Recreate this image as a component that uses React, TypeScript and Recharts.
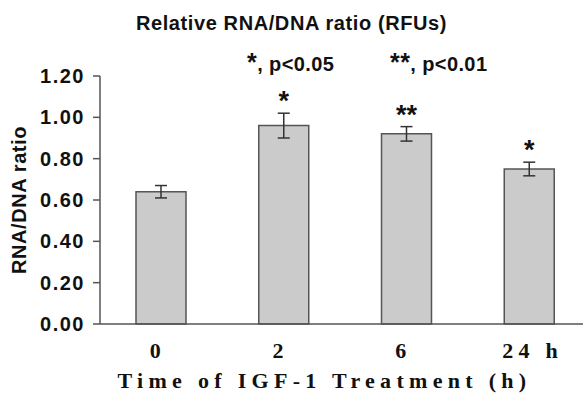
import React from "react";
import { ComposedChart, Bar, XAxis, YAxis, ErrorBar } from "recharts";

const times = ["0", "2", "6", "24 h"];
const ratios = [0.64, 0.96, 0.92, 0.75];
const errors = [0.03, 0.06, 0.035, 0.033];
const stars = ["", "*", "**", "*"];
const yTicks = [0, 0.2, 0.4, 0.6, 0.8, 1.0, 1.2];
const boundaryTicks = [1, 2, 3];

const data = times.map((t, i) => ({
  time: t,
  ratio: ratios[i],
  err: errors[i],
  star: stars[i],
}));

const sans = "'Liberation Sans', Arial, sans-serif";
const serif = "'Liberation Serif', 'Times New Roman', serif";

const renderStar = (props: any) => {
  const { x, y, width, height, index } = props;
  const d = data[index];
  if (!d || !d.star) return null;
  const perUnit = height / d.ratio;
  const errTop = y - d.err * perUnit;
  return (
    <text
      x={x + width / 2}
      y={errTop - 3}
      textAnchor="middle"
      fontFamily={sans}
      fontWeight="bold"
      fontSize={27}
      fill="#111"
    >
      {d.star}
    </text>
  );
};

const TimeTick = ({ x, y, payload }: any) => {
  const label = String(payload.value);
  const dx = label.length > 1 ? 3 : -3.5;
  return (
    <text
      x={x + dx}
      y={y + 34}
      textAnchor="middle"
      fontFamily={serif}
      fontWeight="bold"
      fontSize={22}
      letterSpacing={5.3}
      fill="#111"
    >
      {label}
    </text>
  );
};

const RatioTick = ({ x, y, payload }: any) => (
  <text
    x={x}
    y={y}
    dy={7}
    textAnchor="end"
    fontFamily={sans}
    fontWeight="bold"
    fontSize={20}
    letterSpacing={1.5}
    fill="#111"
  >
    {Number(payload.value).toFixed(2)}
  </text>
);

const YTitle = ({ viewBox }: any) => {
  const cx = viewBox.x + 19;
  const cy = viewBox.y + viewBox.height / 2;
  return (
    <text
      x={cx}
      y={cy}
      transform={`rotate(-90, ${cx}, ${cy})`}
      textAnchor="middle"
      dominantBaseline="central"
      fontFamily={sans}
      fontWeight="bold"
      fontSize={20}
      letterSpacing={0.6}
      fill="#111"
    >
      RNA/DNA ratio
    </text>
  );
};

const XTitle = ({ viewBox }: any) => (
  <text
    x={viewBox.x + viewBox.width / 2 - 21}
    y={viewBox.y + 64}
    textAnchor="middle"
    fontFamily={serif}
    fontWeight="bold"
    fontSize={22}
    letterSpacing={5.3}
    fill="#111"
  >
    Time of IGF-1 Treatment (h)
  </text>
);

const Empty = () => <g />;

const noteStyle: React.CSSProperties = {
  position: "absolute",
  top: 48,
  fontFamily: sans,
  fontWeight: "bold",
  fontSize: 20,
  letterSpacing: 0.4,
  color: "#111",
  whiteSpace: "nowrap",
};

export default function App() {
  return (
    <div
      style={{
        position: "absolute",
        left: 0,
        top: 0,
        width: 583,
        height: 397,
        overflow: "hidden",
        background: "#fff",
      }}
    >
      <div
        style={{
          position: "absolute",
          left: 0,
          width: 583,
          top: 12,
          textAlign: "center",
          fontFamily: sans,
          fontWeight: "bold",
          fontSize: 20,
          letterSpacing: 0.6,
          color: "#111",
        }}
      >
        Relative RNA/DNA ratio (RFUs)
      </div>
      <div style={{ ...noteStyle, left: 247 }}>
        <span style={{ fontSize: 25 }}>*</span>, p&lt;0.05
      </div>
      <div style={{ ...noteStyle, left: 390 }}>
        <span style={{ fontSize: 25 }}>**</span>, p&lt;0.01
      </div>
      <ComposedChart
        width={600}
        height={397}
        data={data}
        margin={{ top: 76, right: 9, bottom: 23, left: 0 }}
      >
        <XAxis
          xAxisId="grid"
          type="number"
          domain={[0, 4]}
          ticks={boundaryTicks}
          allowDataOverflow
          height={0}
          axisLine={false}
          tick={Empty}
          tickSize={5}
          tickLine={{ stroke: "#555", strokeWidth: 1.5 }}
        />
        <XAxis
          xAxisId="cat"
          dataKey="time"
          height={50}
          tickLine={false}
          tickSize={0}
          tickMargin={0}
          axisLine={{ stroke: "#555", strokeWidth: 1.5 }}
          tick={TimeTick}
          label={<XTitle />}
        />
        <YAxis
          width={100}
          domain={[0, 1.2]}
          ticks={yTicks}
          interval={0}
          tickSize={7}
          tickMargin={8}
          axisLine={{ stroke: "#555", strokeWidth: 1.5 }}
          tickLine={{ stroke: "#555", strokeWidth: 1.5 }}
          tick={RatioTick}
          label={<YTitle />}
        />
        <Bar
          xAxisId="cat"
          dataKey="ratio"
          barSize={50}
          fill="#cbcbcb"
          stroke="#555"
          strokeWidth={1.5}
          isAnimationActive={false}
          label={renderStar}
        >
          <ErrorBar
            dataKey="err"
            width={6}
            stroke="#333"
            strokeWidth={1.5}
          />
        </Bar>
      </ComposedChart>
    </div>
  );
}
